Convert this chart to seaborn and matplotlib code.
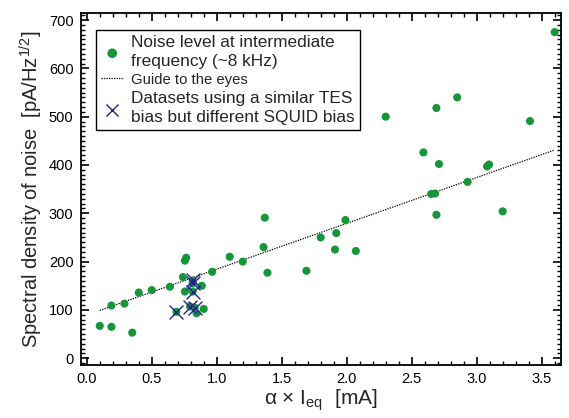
import numpy as np
import pandas as pd
import matplotlib
matplotlib.use("Agg")
import matplotlib.pyplot as plt
from matplotlib.ticker import MultipleLocator
import seaborn as sns

# Green dots: noise level at intermediate frequency
noise_x = [0.10, 0.19, 0.35, 0.19, 0.29, 0.40, 0.50, 0.64, 0.74, 0.755, 0.765, 0.755,
           0.885, 0.965, 1.10, 1.20, 1.37, 1.36, 1.39, 1.69, 1.80, 1.92, 1.91, 1.99,
           2.07, 2.30, 2.69, 2.85, 3.41, 3.60, 2.59, 2.71, 3.08, 3.095, 2.93, 2.65,
           2.68, 2.69, 3.20, 0.69, 0.815, 0.815, 0.815, 0.795, 0.83, 0.845, 0.90]
noise_y = [67, 65, 53, 109, 113, 136, 141, 148, 168, 202, 208, 138,
           150, 179, 210, 200, 291, 230, 177, 181, 250, 259, 225, 286,
           222, 500, 518, 540, 491, 675, 426, 402, 397, 401, 365, 340,
           341, 297, 304, 96, 161, 155, 138, 107, 105, 93, 102]

# Blue crosses: similar TES bias, different SQUID bias
squid_x = [0.69, 0.815, 0.82, 0.815, 0.795, 0.83]
squid_y = [96, 161, 156, 138, 107, 105]

# Guide to the eyes
guide_x = [0.10, 3.60]
guide_y = [99, 431]

x_ticks = [0.0, 0.5, 1.0, 1.5, 2.0, 2.5, 3.0, 3.5]
y_ticks = [0, 100, 200, 300, 400, 500, 600, 700]

sns.set_theme(style="ticks")
plt.rcParams["font.family"] = ["Liberation Sans", "DejaVu Sans"]
plt.rcParams["mathtext.fontset"] = "custom"
plt.rcParams["mathtext.rm"] = "Liberation Sans"
plt.rcParams["mathtext.it"] = "Liberation Sans:italic"
plt.rcParams["mathtext.bf"] = "Liberation Sans:bold"

green = "#17953a"
navy = "#23238f"

fig = plt.figure(figsize=(5.69, 4.18), dpi=100)
ax = fig.add_axes([0.1415, 0.1268, 0.8436, 0.8414])

df_noise = pd.DataFrame({"x": noise_x, "y": noise_y})
df_squid = pd.DataFrame({"x": squid_x, "y": squid_y})
df_guide = pd.DataFrame({"x": guide_x, "y": guide_y})

sns.lineplot(data=df_guide, x="x", y="y", ax=ax, color="black", linestyle=(0, (1, 1)),
             linewidth=0.9, label="Guide to the eyes", zorder=1)
sns.scatterplot(data=df_noise, x="x", y="y", ax=ax, color=green, s=34, edgecolor="none",
                label="Noise level at intermediate\nfrequency (~8 kHz)", zorder=2)
sns.scatterplot(data=df_squid, x="x", y="y", ax=ax, color=navy, marker="x", s=100,
                linewidth=1.0, label="Datasets using a similar TES\nbias but different SQUID bias",
                zorder=3)

ax.set_xlim(-0.048, 3.645)
ax.set_ylim(-14, 714)
ax.set_xticks(x_ticks)
ax.set_xticklabels([f"{t:.1f}" for t in x_ticks])
ax.set_yticks(y_ticks)
ax.set_yticklabels([str(t) for t in y_ticks])
ax.xaxis.set_minor_locator(MultipleLocator(0.1))
ax.yaxis.set_minor_locator(MultipleLocator(10))
ax.tick_params(which="both", direction="in", top=True, right=True, color="black")
ax.tick_params(which="major", length=6, width=1.2, labelsize=10.5, pad=5, labelcolor="black")
ax.tick_params(which="minor", length=3.2, width=1.0)
for sp in ax.spines.values():
    sp.set_visible(True)
    sp.set_linewidth(1.3)
    sp.set_color("black")

ax.set_xlabel("α × I$_{\\mathrm{eq}}$  [mA]", fontsize=15, labelpad=1)
ax.set_ylabel(r"Spectral density of noise  [pA/Hz$^{1/2}$]", fontsize=14.5, labelpad=3)

handles, labels = ax.get_legend_handles_labels()
order = [1, 0, 2]
leg = ax.legend([handles[i] for i in order], [labels[i] for i in order],
                loc="upper left", bbox_to_anchor=(0.032, 0.953), fontsize=12.4,
                frameon=True, fancybox=False, shadow=False, handlelength=1.3,
                handletextpad=0.45, borderpad=0.3, labelspacing=0.22,
                borderaxespad=0, markerscale=1.0)
leg.get_frame().set_edgecolor("black")
leg.get_frame().set_linewidth(1.0)
leg.get_frame().set_alpha(1)
lh = leg.legend_handles
lh[0].set_sizes([48])
lh[2].set_sizes([75])
texts = leg.get_texts()
texts[1].set_fontsize(10.7)
for t in texts:
    t.set_linespacing(1.3)

fig.savefig("out.png", dpi=100)
